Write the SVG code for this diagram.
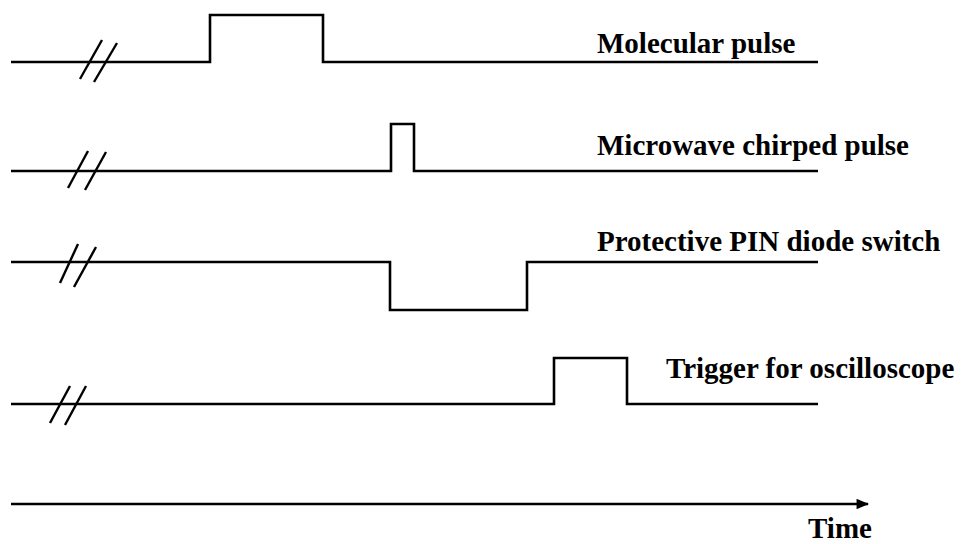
<svg xmlns="http://www.w3.org/2000/svg" width="969" height="544" viewBox="0 0 969 544">
  <style>
    .sig { fill: none; stroke: #000; stroke-width: 2.6; stroke-linejoin: miter; }
    .brk { stroke: #000; stroke-width: 2.4; }
    .lbl { font-family: "Liberation Serif", "Times New Roman", serif; font-weight: bold; font-size: 29px; fill: #000; }
  </style>
  <defs>
    <marker id="arrow" viewBox="0 0 12 10" refX="11" refY="5" markerWidth="5" markerHeight="4" orient="auto" markerUnits="strokeWidth">
      <path d="M0,0 L12,5 L0,10 Z" fill="#000"/>
    </marker>
  </defs>

  <!-- Molecular pulse -->
  <g id="molecular-pulse">
    <path class="sig" d="M11,62 H210 V15 H323 V62 H818"/>
    <line class="brk" x1="102" y1="40" x2="80" y2="79"/>
    <line class="brk" x1="117" y1="43" x2="94" y2="82"/>
    <text class="lbl" x="597" y="53">Molecular pulse</text>
  </g>

  <!-- Microwave chirped pulse -->
  <g id="microwave-pulse">
    <path class="sig" d="M11,171 H391 V124 H414 V171 H818"/>
    <line class="brk" x1="88" y1="151" x2="68" y2="188"/>
    <line class="brk" x1="106" y1="152" x2="85" y2="190"/>
    <text class="lbl" x="597" y="155">Microwave chirped pulse</text>
  </g>

  <!-- Protective PIN diode switch -->
  <g id="pin-switch">
    <path class="sig" d="M11,262 H390 V310 H527 V262 H818"/>
    <line class="brk" x1="78" y1="244" x2="60" y2="283"/>
    <line class="brk" x1="96" y1="247" x2="74" y2="287"/>
    <text class="lbl" x="597" y="251">Protective PIN diode switch</text>
  </g>

  <!-- Trigger for oscilloscope -->
  <g id="scope-trigger">
    <path class="sig" d="M11,404 H554 V358 H627 V404 H818"/>
    <line class="brk" x1="70" y1="386" x2="50" y2="423"/>
    <line class="brk" x1="86" y1="386" x2="65" y2="425"/>
    <text class="lbl" x="666" y="378">Trigger for oscilloscope</text>
  </g>

  <!-- Time axis -->
  <g id="connectors">
    <line x1="11" y1="504" x2="868" y2="504" stroke="#000" stroke-width="2.6" marker-end="url(#arrow)"/>
  </g>
  <g id="time-label">
    <text class="lbl" x="808" y="538">Time</text>
  </g>
</svg>
